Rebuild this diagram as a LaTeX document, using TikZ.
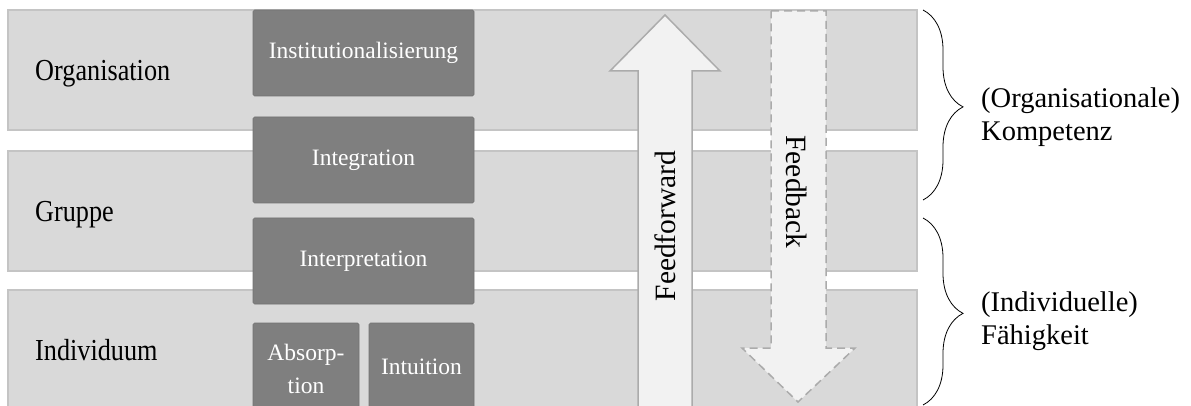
\documentclass[tikz,border=0pt]{standalone}
\usepackage{fontspec}
\setmainfont{Liberation Serif}
\newfontfamily\levelfont[FakeStretch=0.86]{Liberation Serif}
\usetikzlibrary{decorations.pathreplacing}
\definecolor{layerfill}{HTML}{D9D9D9}
\definecolor{layerline}{HTML}{C4C4C4}
\definecolor{boxfill}{HTML}{7F7F7F}
\definecolor{arrowfill}{HTML}{F2F2F2}
\definecolor{arrowline}{HTML}{ABABAB}
\begin{document}
\begin{tikzpicture}[x=1pt,y=-1pt,
  layer/.style={draw=layerline,fill=layerfill,line width=1.5pt},
  stage/.style={draw=boxfill!90!black,fill=boxfill,line width=0.6pt,rounded corners=1.5pt},
  stagetext/.style={text=white,font=\fontsize{23.5}{33}\selectfont,align=center,inner sep=0pt},
  leveltext/.style={font=\levelfont\fontsize{30.5}{34}\selectfont,anchor=base west,inner sep=0pt},
  sidetext/.style={font=\fontsize{28.5}{32.5}\selectfont,align=left,anchor=west,inner sep=0pt},
  flowarrow/.style={draw=arrowline,fill=arrowfill,line width=1.5pt,line join=miter},
  flowtext/.style={font=\fontsize{29.5}{34}\selectfont,inner sep=0pt},
  bracepath/.style={decorate,decoration={brace,amplitude=40pt,aspect=0.51},line width=0.8pt}]
\useasboundingbox (0,0) rectangle (1191,406);
\clip (0,0) rectangle (1191,406);

% the three levels
\draw[layer] (8,10) rectangle (917,130);
\draw[layer] (8,151) rectangle (917,271);
\draw[layer] (8,290) rectangle (917,420);
\node[leveltext] (org) at (35,81) {Organisation};
\node[leveltext] (grp) at (35,222) {Gruppe};
\node[leveltext] (ind) at (35,360) {Individuum};

% learning processes
\draw[stage] (253,10) rectangle (474,96);
\node[stagetext] (inst) at (363.5,53) {Institutionalisierung};
\draw[stage] (253,117) rectangle (474,203);
\node[stagetext] (integ) at (363.5,160) {Integration};
\draw[stage] (253,218) rectangle (474,304);
\node[stagetext] (interp) at (363.5,261) {Interpretation};
\draw[stage] (253,323) rectangle (359,430);
\node[stagetext] (abs) at (306,369) {Absorp-\\tion};
\draw[stage] (369,323) rectangle (474,430);
\node[stagetext] (intu) at (421.5,367) {Intuition};

% feedforward (upwards) and feedback (downwards)
\draw[flowarrow] (638,420) -- (638,71) -- (610,71) -- (665,15) -- (720,71)
  -- (692,71) -- (692,420) -- cycle;
\node[flowtext,rotate=90] (ff) at (665,226) {Feedforward};
\draw[flowarrow,dashed,dash pattern=on 8pt off 5pt] (771,11) -- (826,11) -- (826,348)
  -- (855,348) -- (798,402) -- (742,348) -- (771,348) -- cycle;
\node[flowtext,rotate=-90] (fb) at (797,192) {Feedback};

% braces and their labels
\coordinate (b1t) at (923,10);
\coordinate (b1b) at (923,200);
\coordinate (b2t) at (923,218);
\coordinate (b2b) at (923,405);
\draw[bracepath] (b1t) -- (b1b);
\draw[bracepath] (b2t) -- (b2b);
\node[sidetext] (komp) at (981,117) {(Organisationale)\\Kompetenz};
\node[sidetext] (fah) at (981,321) {(Individuelle)\\Fähigkeit};
\end{tikzpicture}
\end{document}
